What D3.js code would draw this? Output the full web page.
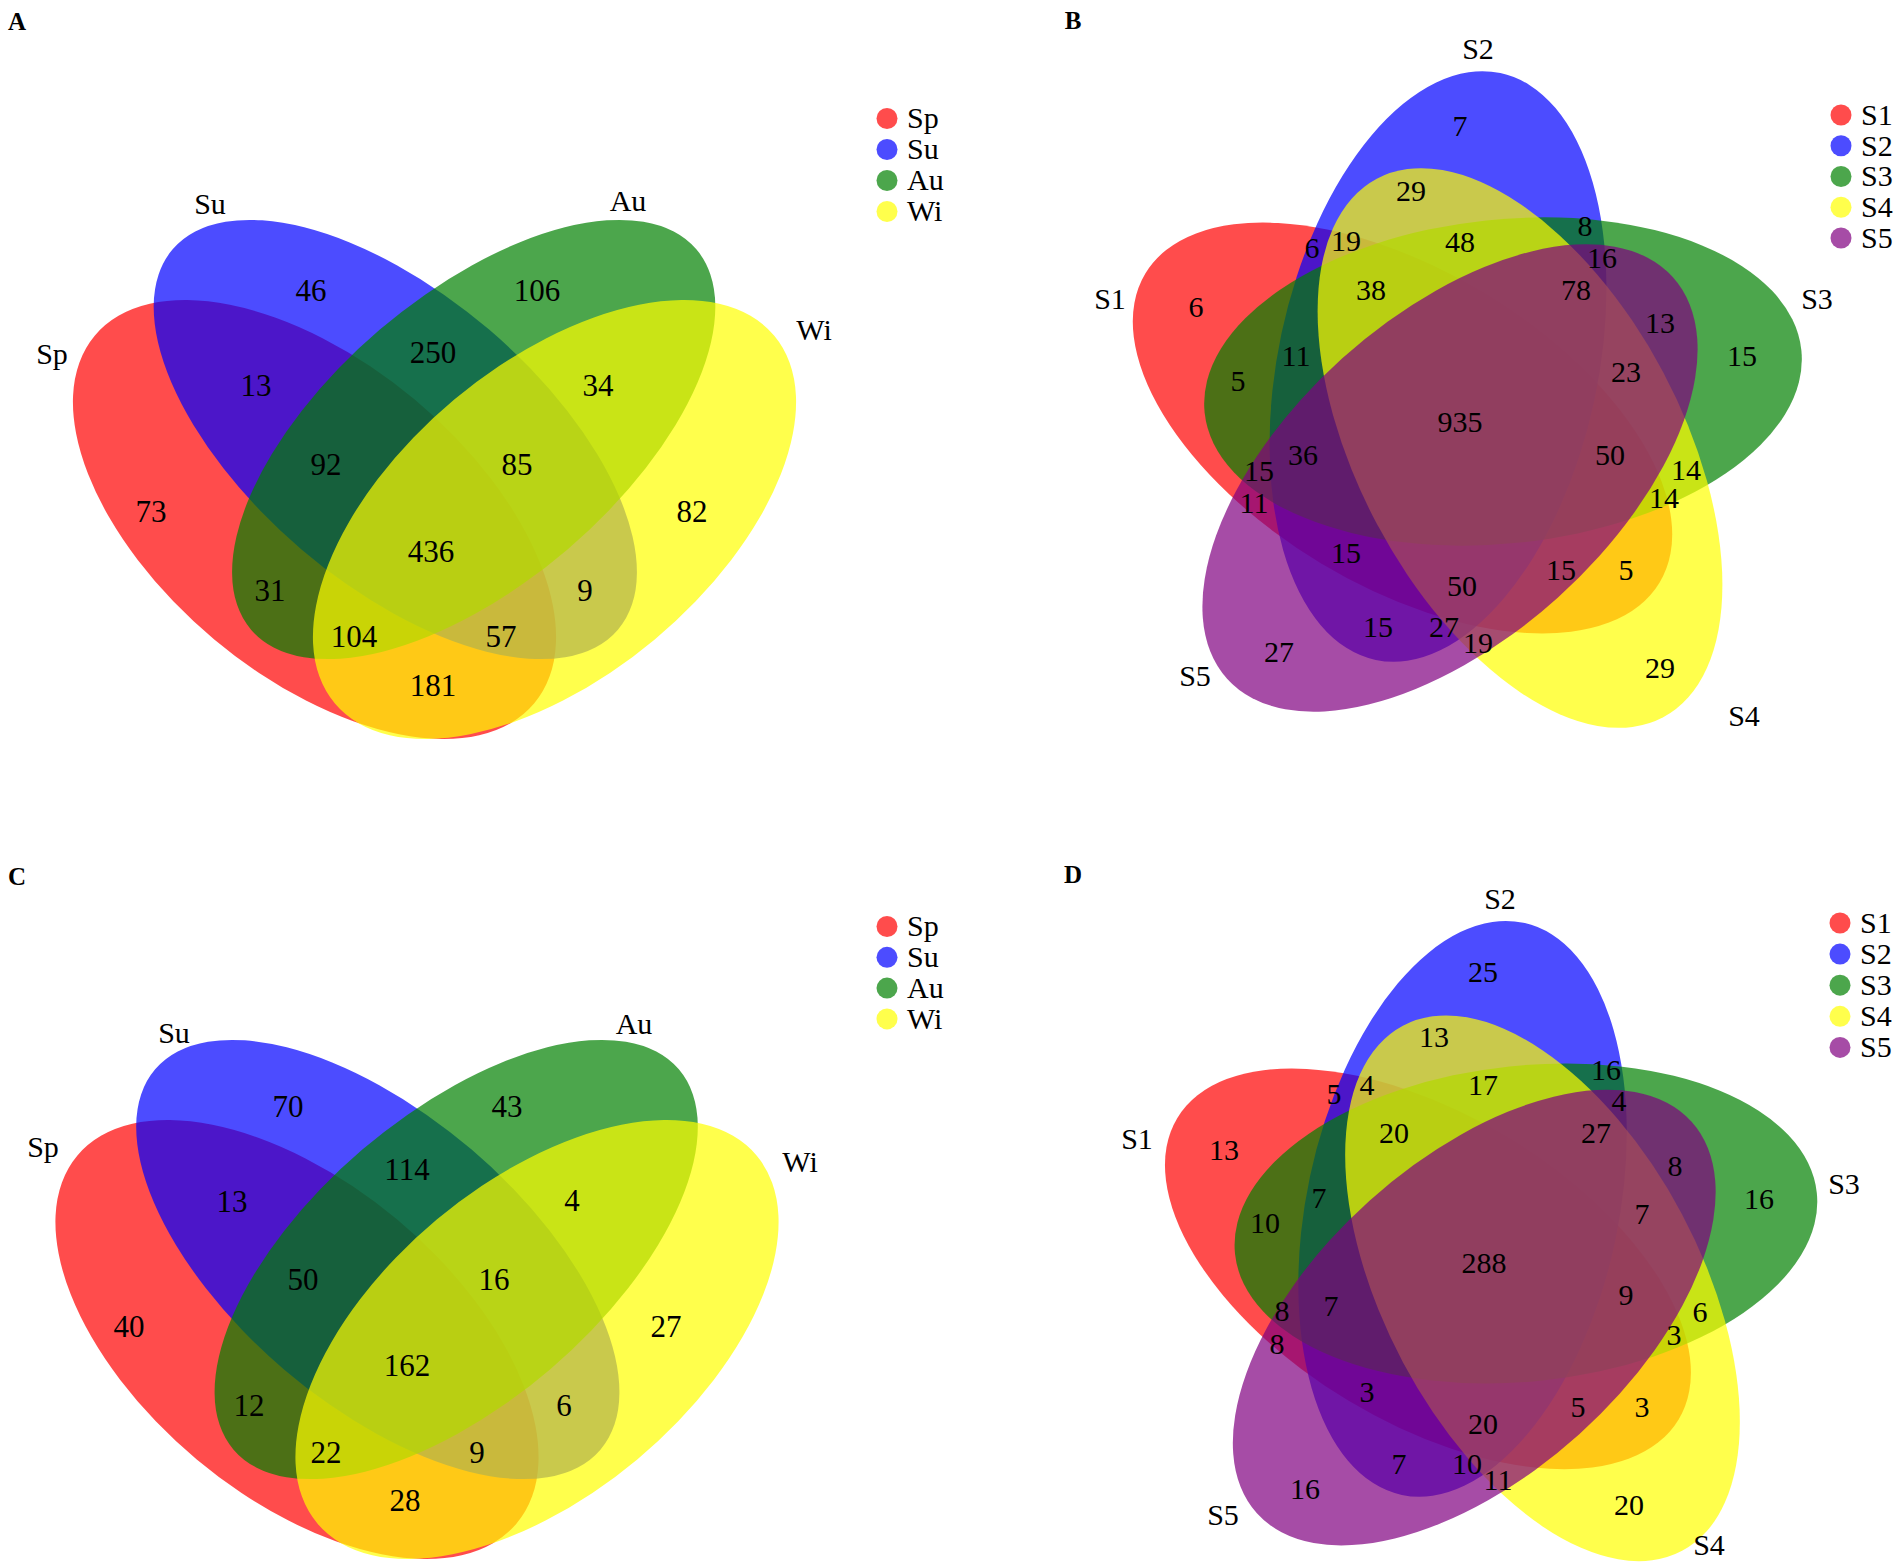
<!DOCTYPE html>
<html>
<head>
<meta charset="utf-8">
<title>Venn diagrams</title>
<style>
  body { margin: 0; background: #fff; }
  text { font-family: "Liberation Serif", "Times New Roman", serif; fill: #000; }
</style>
</head>
<body>
<script src="https://d3js.org/d3.v7.min.js"></script>
<script>

// ---- data ----
var seasons = ["Sp", "Su", "Au", "Wi"];
var sites = ["S1", "S2", "S3", "S4", "S5"];
var seasonColors = ["#ff0000", "#0000ff", "#008000", "#ffff00"];
var siteColors = ["#ff0000", "#0000ff", "#008000", "#ffff00", "#800080"];

// region counts, 4-set panels (order: Sp, Su, Au, Wi, SpSu, SuAu, AuWi, SpSuAu, SuAuWi, all, SpAu, SuWi, SpAuWi, SpSuWi, SpWi)
var countsA = [73, 46, 106, 82, 13, 250, 34, 92, 85, 436, 31, 9, 104, 57, 181];
var countsC = [40, 70, 43, 27, 13, 114, 4, 50, 16, 162, 12, 6, 22, 9, 28];

// region counts, 5-set panels (same region order in B and D)
var countsB = [7, 29, 19, 6, 48, 8, 16, 6, 38, 78, 13, 15, 11, 5, 23, 935, 36, 50, 15, 14,
               11, 14, 15, 15, 5, 50, 15, 27, 19, 27, 29];
var countsD = [25, 13, 4, 5, 17, 16, 4, 13, 20, 27, 8, 16, 7, 10, 7, 288, 7, 9, 8, 6,
               8, 3, 3, 5, 3, 20, 7, 10, 11, 16, 20];

// ---- layout (panel-local pixel units) ----
var posA = [[151,511],[311,290],[537,290],[692,511],[256,385],[433,352],[598,385],[326,464],
            [517,464],[431,551],[270,590],[585,590],[354,636],[501,636],[433,685]];
var posC = [[129,542],[288,322],[507,322],[666,542],[232,417],[407,385],[572,416],[303,495],
            [494,495],[407,581],[249,621],[564,621],[326,668],[477,668],[405,716]];
var posB = [[509,125],[460,190],[395,240],[361,247],[509,241],[634,225],[651,257],[245,306],
            [420,289],[625,289],[709,322],[791,355],[345,355],[287,380],[675,371],[509,421],
            [352,454],[659,454],[308,470],[735,469],[303,502],[713,497],[395,552],[610,569],
            [675,569],[511,585],[427,626],[493,626],[527,642],[328,651],[709,667]];
var posD = [[532,187],[483,252],[416,300],[383,309],[532,300],[655,285],[668,316],[273,365],
            [443,348],[645,348],[724,381],[808,414],[368,413],[314,438],[691,429],[533,478],
            [380,521],[675,510],[331,526],[749,527],[326,559],[723,550],[416,607],[627,622],
            [691,622],[532,639],[448,679],[516,679],[547,695],[354,704],[678,720]];

// 5-set shapes: offset of each ellipse centre from the diagram centre, axis angle, semi-axes
var quintShape = [
  {dx: -57.5, dy: 8,     ang: 31,  a: 300, b: 158},
  {dx: -22,   dy: -53.5, ang: 102, a: 300, b: 160},
  {dx: 43,    dy: -38.5, ang: 174, a: 300, b: 162},
  {dx: 60,    dy: 28,    ang: 62,  a: 305, b: 162},
  {dx: -10,   dy: 58,    ang: -42, a: 300, b: 161}
];

var W = 1902, H = 1568, PW = 951, PH = 784;

var svg = d3.select("body").append("svg")
    .attr("width", W)
    .attr("height", H);

svg.append("rect").attr("width", W).attr("height", H).attr("fill", "#fff");

// ellipses for the 4-set layout: outer pair + inner pair, mirrored about axis
function quadEllipses(axis, cy) {
  var outer = {dx: 120, dy: 0, a: 286.5, b: 156.3, ang: 39.9};
  var inner = {dx: 39.2, dy: -80, a: 292.8, b: 144.5, ang: 40.5};
  return [
    {cx: axis - outer.dx, cy: cy + outer.dy, a: outer.a, b: outer.b, ang: outer.ang},
    {cx: axis - inner.dx, cy: cy + inner.dy, a: inner.a, b: inner.b, ang: inner.ang},
    {cx: axis + inner.dx, cy: cy + inner.dy, a: inner.a, b: inner.b, ang: -inner.ang},
    {cx: axis + outer.dx, cy: cy + outer.dy, a: outer.a, b: outer.b, ang: -outer.ang}
  ];
}

// ellipses for the 5-set layout, scaled by k about the centre (ox, oy)
function quintEllipses(ox, oy, k) {
  return quintShape.map(function(s) {
    return {cx: ox + s.dx * k, cy: oy + s.dy * k, a: s.a * k, b: s.b * k, ang: s.ang};
  });
}

function drawPanel(cfg) {
  var x = d3.scaleLinear().domain([0, PW]).range([cfg.x0, cfg.x0 + PW]);
  var y = d3.scaleLinear().domain([0, PH]).range([cfg.y0, cfg.y0 + PH]);
  var g = svg.append("g");

  g.selectAll("ellipse.set")
    .data(cfg.ellipses)
    .enter().append("ellipse")
      .attr("class", "set")
      .attr("rx", function(d) { return d.a; })
      .attr("ry", function(d) { return d.b; })
      .attr("transform", function(d) {
        return "translate(" + x(d.cx) + "," + y(d.cy) + ") rotate(" + d.ang + ")";
      })
      .attr("fill", function(d, i) { return cfg.colors[i]; })
      .attr("fill-opacity", 0.7);

  // region counts
  g.selectAll("text.count")
    .data(cfg.counts)
    .enter().append("text")
      .attr("class", "count")
      .attr("x", function(d, i) { return x(cfg.pos[i][0]); })
      .attr("y", function(d, i) { return y(cfg.pos[i][1]); })
      .attr("dy", "0.35em")
      .attr("text-anchor", "middle")
      .style("font-size", cfg.countSize + "px")
      .text(function(d) { return d; });

  // set names next to the shapes
  g.selectAll("text.setname")
    .data(cfg.names)
    .enter().append("text")
      .attr("class", "setname")
      .attr("x", function(d, i) { return x(cfg.namePos[i][0]); })
      .attr("y", function(d, i) { return y(cfg.namePos[i][1]); })
      .attr("dy", "0.3em")
      .attr("text-anchor", "middle")
      .style("font-size", "30px")
      .text(function(d) { return d; });

  // panel letter
  g.append("text")
    .attr("x", x(cfg.letterPos[0]))
    .attr("y", y(cfg.letterPos[1]))
    .attr("dy", "0.35em")
    .attr("text-anchor", "middle")
    .style("font-size", "25px")
    .style("font-weight", "bold")
    .text(cfg.letter);

  // legend
  var lg = g.selectAll("g.legend")
    .data(cfg.names)
    .enter().append("g")
      .attr("class", "legend")
      .attr("transform", function(d, i) {
        return "translate(" + x(cfg.legend[0]) + "," + y(cfg.legend[1] + i * cfg.legend[2]) + ")";
      });
  lg.append("circle")
    .attr("r", 10.5)
    .attr("fill", function(d, i) { return cfg.colors[i]; })
    .attr("fill-opacity", 0.7);
  lg.append("text")
    .attr("x", 20)
    .attr("dy", "0.33em")
    .style("font-size", "30px")
    .text(function(d) { return d; });
}

drawPanel({
  x0: 0, y0: 0, letter: "A", letterPos: [17, 21],
  ellipses: quadEllipses(434.5, 519.5), colors: seasonColors,
  counts: countsA, pos: posA, names: seasons, countSize: 31,
  namePos: [[52, 355], [210, 205], [628, 202], [814, 331]],
  legend: [887, 118.5, 31]
});

drawPanel({
  x0: PW, y0: 0, letter: "B", letterPos: [122, 20],
  ellipses: quintEllipses(509, 420, 1), colors: siteColors,
  counts: countsB, pos: posB, names: sites, countSize: 30,
  namePos: [[159, 300], [527, 50], [866, 300], [793, 717], [244, 677]],
  legend: [890, 115, 30.75]
});

drawPanel({
  x0: 0, y0: PH, letter: "C", letterPos: [17, 92],
  ellipses: quadEllipses(417, 555.5), colors: seasonColors,
  counts: countsC, pos: posC, names: seasons, countSize: 31,
  namePos: [[43, 364], [174, 250], [634, 241], [800, 379]],
  legend: [887, 142.5, 30.8]
});

drawPanel({
  x0: PW, y0: PH, letter: "D", letterPos: [122, 90],
  ellipses: quintEllipses(533, 477, 0.975), colors: siteColors,
  counts: countsD, pos: posD, names: sites, countSize: 30,
  namePos: [[186, 356], [549, 116], [893, 401], [758, 762], [272, 732]],
  legend: [889, 139, 31.1]
});

</script>
</body>
</html>
